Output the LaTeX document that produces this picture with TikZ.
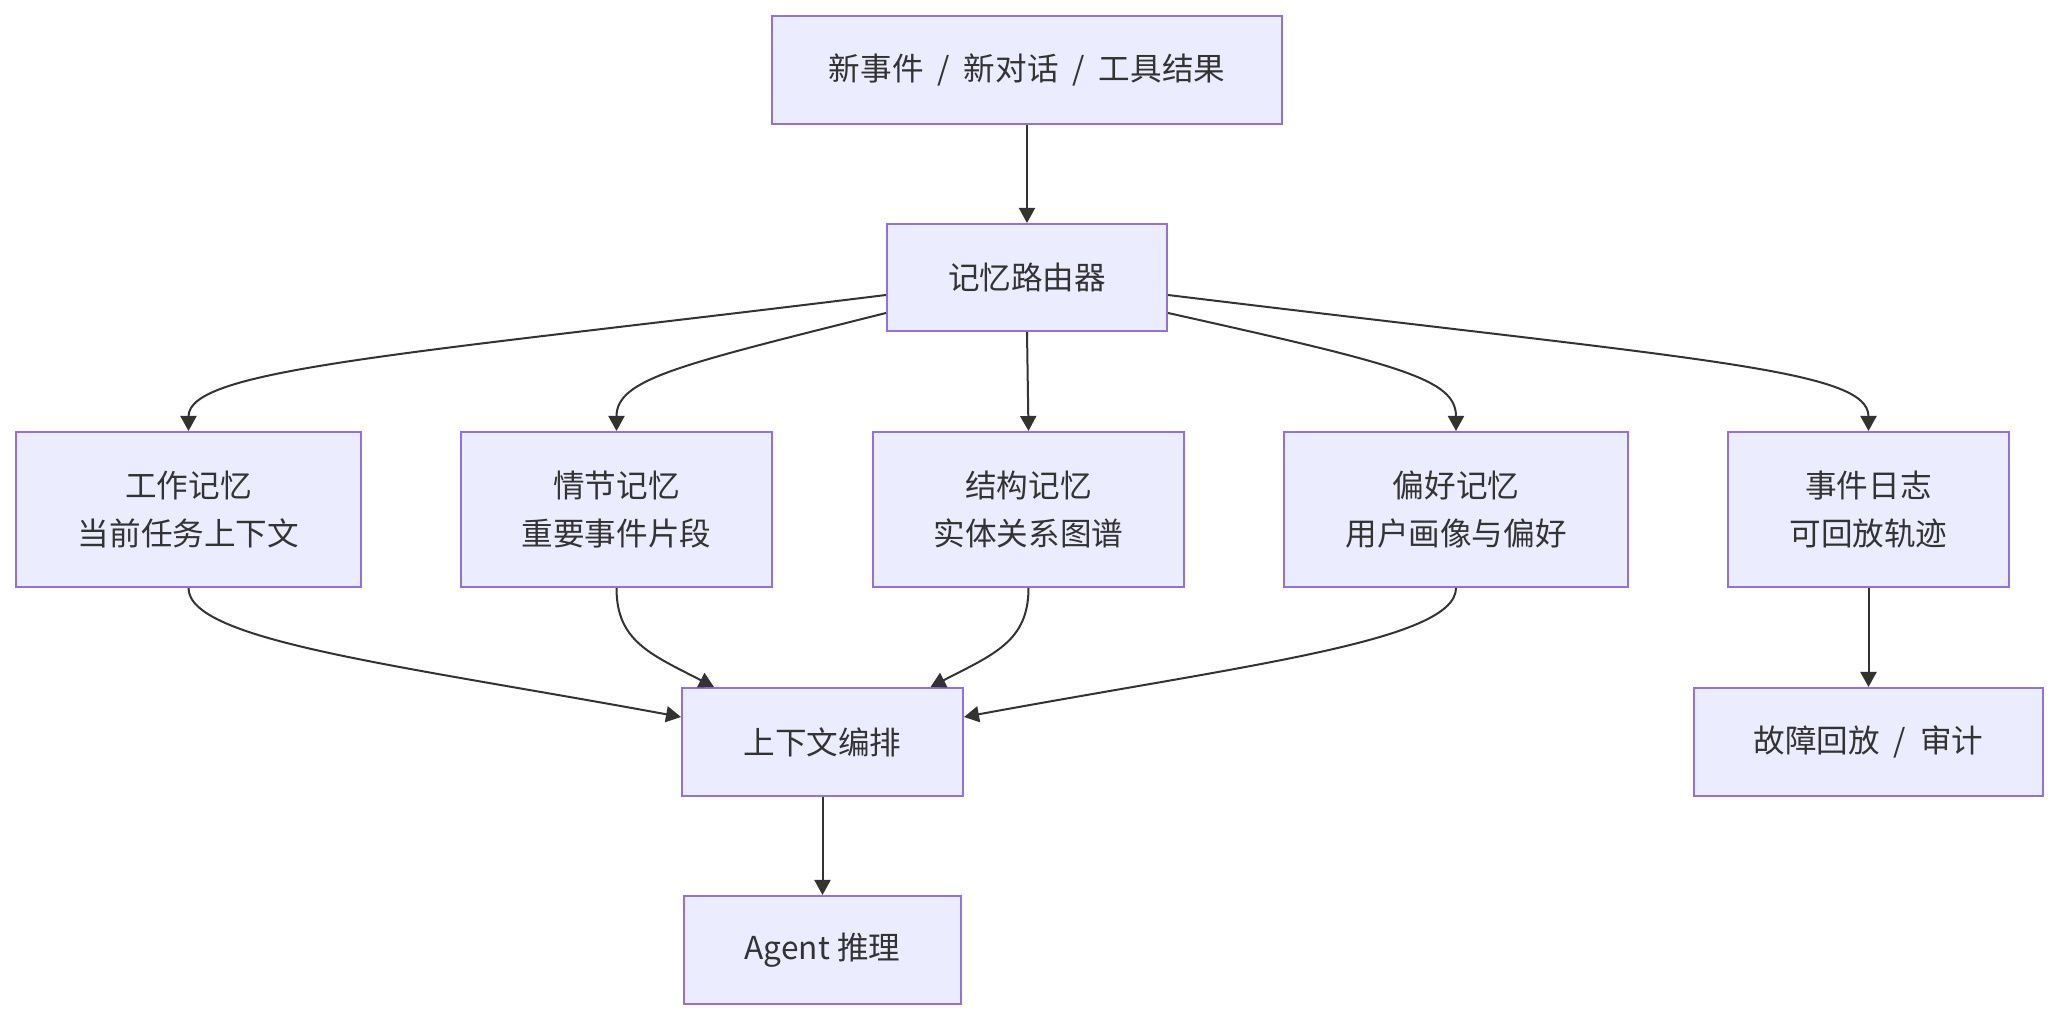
\documentclass[tikz,border=0pt]{standalone}
\usepackage{fontspec}
\setmainfont{Noto Sans CJK SC}
\usetikzlibrary{arrows.meta, positioning, calc}
\definecolor{mmfill}{HTML}{ECECFF}
\definecolor{mmstroke}{HTML}{9370DB}
\definecolor{mmline}{HTML}{333333}
\newcommand{\slsep}{\hspace{0.44em}/\hspace{0.44em}}
\begin{document}
\begin{tikzpicture}[
        x=0.5pt, y=-0.5pt,
        box/.style={draw=mmstroke, fill=mmfill, line width=1pt, text=mmline, align=center, inner sep=0pt,
                    font=\fontsize{15.8pt}{24.3pt}\selectfont},
        link/.style={draw=mmline, line width=1pt, -{Triangle[length=7.5pt, width=8pt]}}
    ]
        \useasboundingbox (0,0) rectangle (2058,1020);

        \node[box, minimum width=255pt, minimum height=54pt] (src) at (1027,70) {新事件\slsep 新对话\slsep 工具结果};
        \node[box, minimum width=140pt, minimum height=53.5pt] (router) at (1027,277.5) {记忆路由器};

        \node[box, minimum width=172.5pt, minimum height=77.5pt] (wm) at (188.5,509.5) {工作记忆\\当前任务上下文};
        \node[box, minimum width=155.5pt, minimum height=77.5pt] (ep) at (616.5,509.5) {情节记忆\\重要事件片段};
        \node[box, minimum width=155.5pt, minimum height=77.5pt] (st) at (1028.5,509.5) {结构记忆\\实体关系图谱};
        \node[box, minimum width=172pt, minimum height=77.5pt] (pf) at (1456,509.5) {偏好记忆\\用户画像与偏好};
        \node[box, minimum width=140.5pt, minimum height=77.5pt] (log) at (1868.5,509.5) {事件日志\\可回放轨迹};

        \node[box, minimum width=140.5pt, minimum height=54pt] (ctx) at (822.5,742) {上下文编排};
        \node[box, minimum width=174.5pt, minimum height=54pt] (replay) at (1868.5,742) {故障回放\slsep 审计};
        \node[box, minimum width=138.5pt, minimum height=54pt] (agent) at (822.5,950) {Agent 推理};

        % straight links
        \draw[link] (src.south) -- (router.north);
        \draw[link] (router.south) -- (st.north);
        \draw[link] (ctx.south) -- (agent.north);
        \draw[link] (log.south) -- (replay.north);

        % router fan-out
        \draw[link] ([yshift=-8.75pt]router.west) .. controls +(-487,60) and +(0,-62) .. (wm.north);
        \draw[link] ([yshift=-17.75pt]router.west) .. controls +(-207,52) and +(0,-52) .. (ep.north);
        \draw[link] ([yshift=-17.75pt]router.east) .. controls +(233,52) and +(0,-52) .. (pf.north);
        \draw[link] ([yshift=-8.75pt]router.east) .. controls +(533,65) and +(0,-62) .. (log.north);

        % into context
        \draw[link] (wm.south) .. controls +(0,53) and +(-282,-52) .. ([yshift=12.5pt]ctx.west);
        \draw[link] (ep.south) .. controls +(0,53) and +(-64,-33) .. ([xshift=-54.25pt]ctx.north);
        \draw[link] (st.south) .. controls +(0,53) and +(64,-33) .. ([xshift=54pt]ctx.north);
        \draw[link] (pf.south) .. controls +(0,53) and +(282,-52) .. ([yshift=12.5pt]ctx.east);
    \end{tikzpicture}
\end{document}
